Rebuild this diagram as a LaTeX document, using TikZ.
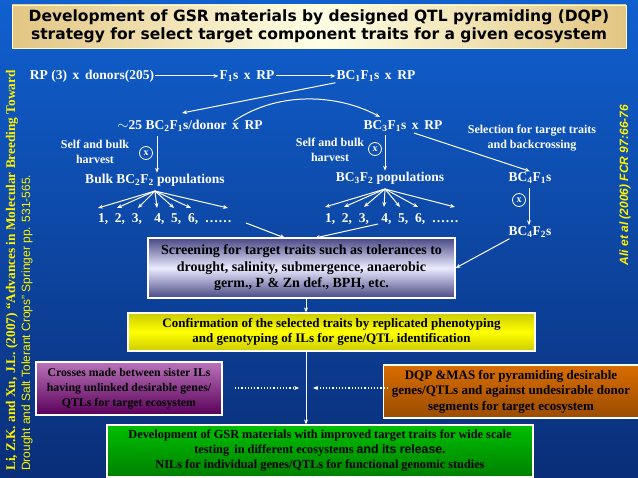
\documentclass[tikz,border=0pt]{standalone}
\usepackage{fontspec}
\setmainfont{Liberation Serif}
\newfontfamily\sansf{DejaVu Sans}
\newfontfamily\arialf{Liberation Sans}
\usetikzlibrary{arrows.meta,shapes.geometric}
\definecolor{bgtop}{HTML}{1060D0}
\definecolor{bgbot}{HTML}{0A2E78}
\tikzset{
 wt/.style={text=white,font=\bfseries\fontsize{13.5}{15}\selectfont,inner sep=1pt},
 wts/.style={text=white,font=\bfseries\fontsize{12}{15}\selectfont,align=center,inner sep=1pt},
 ar/.style={draw=white,line width=1pt,-{Stealth[length=5pt,width=4pt]}},
 cx/.style={circle,draw=white,line width=0.8pt,text=white,inner sep=0.5pt,minimum size=13pt,font=\bfseries\fontsize{10}{10}\selectfont},
 box/.style={draw=white,line width=1.2pt,align=center,text=black,font=\bfseries\fontsize{13}{15.5}\selectfont,inner sep=2pt},
 dt/.style={draw=white,line width=1.2pt,dotted,-{Stealth[length=5pt,width=4pt]}},
}
\begin{document}
\begin{tikzpicture}[x=1pt,y=-1pt]
\shade[top color=bgtop,bottom color=bgbot] (0,0) rectangle (638,478);
\useasboundingbox (0,0) rectangle (638,478);
% title
\node[draw=white!80!yellow,line width=0.8pt,left color=yellow!25!brown!60,right color=yellow!25!brown!60,middle color=yellow!10!white,minimum width=614pt,minimum height=43pt,align=center,font=\sansf\bfseries\fontsize{15.5}{18.5}\selectfont,text=black] (title) at (319,26.5) {Development of GSR materials by designed QTL pyramiding (DQP)\\strategy for select target component traits for a given ecosystem};
% row 1
\node[wt] (rp) at (92,76) {RP (3)\, {\normalfont\bfseries x}\, donors(205)};
\node[wt] (f1) at (247,76) {F\textsubscript{1}s\, x\, RP};
\node[wt] (bc1) at (376,76) {BC\textsubscript{1}F\textsubscript{1}s\, x\, RP};
\draw[ar] (rp.east) -- (f1.west);
\draw[ar] (f1.east) -- (bc1.west);
% row 2
\node[wt] (bc2) at (190,126) {$\sim$25 BC\textsubscript{2}F\textsubscript{1}s/donor\, x\, RP};
\node[wt] (bc3) at (403,126) {BC\textsubscript{3}F\textsubscript{1}s\, x\, RP};
\coordinate (bc2x) at (234,121);
\coordinate (bc3x) at (414,133);
\draw[ar] (bc1.south west) -- (182,113);
\draw[ar] (bc2x) .. controls (280,90) and (340,95) .. (380,117);
\node[wts] (sel) at (532,138) {Selection for target traits\\and backcrossing};
\node[wts] (sb1) at (95,152) {Self and bulk\\harvest};
\node[cx] (x1) at (146,153) {x};
\node[wts] (sb2) at (330,150) {Self and bulk\\harvest};
\node[cx] (x2) at (375,149) {x};
% row 3
\node[wt] (bulk2) at (155,180) {Bulk BC\textsubscript{2}F\textsubscript{2} populations};
\node[wt] (bulk3) at (390,178) {BC\textsubscript{3}F\textsubscript{2} populations};
\node[wt] (bc4) at (530,178) {BC\textsubscript{4}F\textsubscript{1}s};
\draw[ar] (157,136) -- (bulk2.north -| 157,0);
\draw[ar] (385,135) -- (bulk3.north -| 385,0);
\draw[ar] (bc3x) -- (bc4.north);
\node[cx] (x3) at (519,200) {x};
\node[wt] (bc4f2) at (530,232) {BC\textsubscript{4}F\textsubscript{2}s};
\draw[ar] (529,188) -- (bc4f2.north -| 529,0);
% numbers
\node[wt] (n1) at (165,219) {1,\enspace 2,\enspace 3,\enspace\, 4,\enspace 5,\enspace 6,\enspace ……};
\node[wt] (n2) at (392,219) {1,\enspace 2,\enspace 3,\enspace\, 4,\enspace 5,\enspace 6,\enspace ……};
\foreach \t in {98,117,138,157,174,191,228}{\draw[ar] (155,191) -- (\t,208);}
\foreach \t in {325,344,364,384,400,418,455}{\draw[ar] (385,189) -- (\t,207);}
% screening
\node[box,draw=white,top color=gray!70!blue!80!black,bottom color=gray!70!blue!80!black,middle color=blue!8!white,minimum width=307pt,minimum height=60pt,font=\bfseries\fontsize{14}{16.5}\selectfont] (scr) at (301.5,268) {Screening for target traits such as tolerances to\\drought, salinity, submergence, anaerobic\\germ., P \& Zn def., BPH, etc.};
\draw[ar] (246,223) -- (285,238);
\draw[ar] (378,224) -- (315,238);
\draw[ar] (bc4f2.south west) ++(2,0) -- (scr.east);
% yellow
\node[box,top color=yellow!80!black,bottom color=yellow!80!black,middle color=yellow,minimum width=407pt,minimum height=38pt] (conf) at (331.5,332) {Confirmation of the selected traits by replicated phenotyping\\and genotyping of ILs for gene/QTL identification};
\draw[ar] (scr.south -| 306,0) -- (conf.north -| 306,0);
% purple
\node[box,top color=violet!55!white,bottom color=violet!70!black,minimum width=186pt,minimum height=53pt,font=\bfseries\fontsize{11.8}{15}\selectfont] (pur) at (129,388.5) {Crosses made between sister ILs\\having unlinked desirable genes/\\QTLs for target ecosystem};
\node[box,top color=orange!85!black,bottom color=orange!60!black,minimum width=255pt,minimum height=53pt] (ora) at (511,391.5) {DQP \&MAS for pyramiding desirable\\genes/QTLs and against undesirable donor\\segments for target ecosystem};
% green
\node[box,top color=green!75!black,bottom color=green!50!black,minimum width=426pt,minimum height=52pt,font=\bfseries\fontsize{12.3}{15}\selectfont] (grn) at (320,451) {Development of GSR materials with improved target traits for wide scale\\testing\, in different ecosystems {\arialf\bfseries and its release.}\\NILs for individual genes/QTLs for functional genomic studies};
\draw[ar] (conf.south -| 306,0) -- (grn.north -| 306,0);
\draw[dt] (235,388) -- (299,388);
\draw[dt] (388,388) -- (313,388);
% side texts
\node[rotate=90,anchor=west,text=yellow,font=\bfseries\fontsize{13.3}{13.3}\selectfont,inner sep=0pt] (ref1) at (12,471) {Li, Z.K. and Xu, J.L. (2007) “Advances in Molecular Breeding Toward};
\node[rotate=90,anchor=west,text=yellow,font=\arialf\fontsize{12}{12}\selectfont,inner sep=0pt] (ref2) at (27,471) {Drought and Salt Tolerant Crops” Springer pp. 531-565.};
\node[rotate=90,text=yellow,font=\arialf\bfseries\itshape\fontsize{12}{12}\selectfont,inner sep=0pt] (ali) at (625,185) {Ali et al (2006) FCR 97:66-76};
\end{tikzpicture}
\end{document}
